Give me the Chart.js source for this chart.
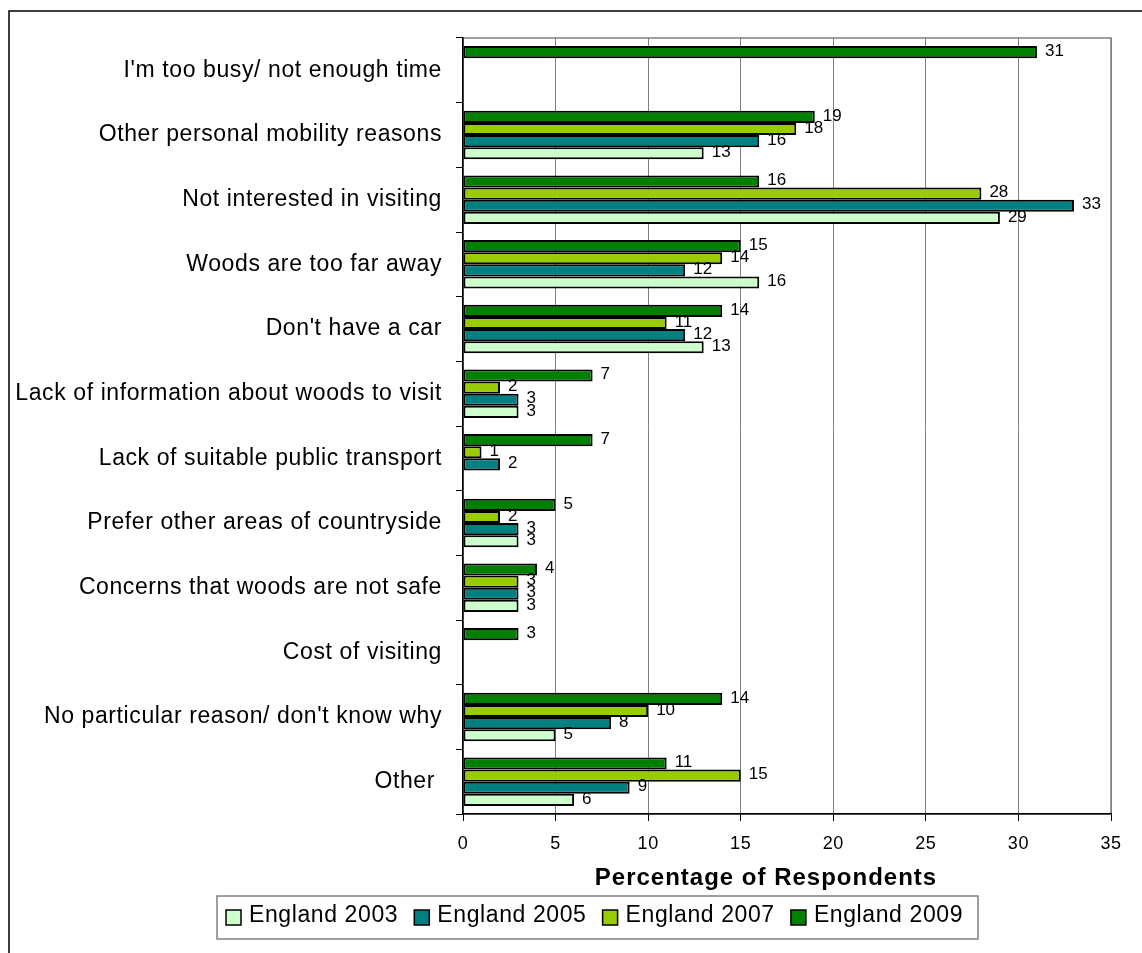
<!DOCTYPE html>
<html>
<head>
<meta charset="utf-8">
<script src="https://cdn.jsdelivr.net/npm/chart.js@4.4.1/dist/chart.umd.min.js"></script>
<style>
  html, body { margin: 0; padding: 0; background: #fff; }
  canvas { display: block; }
</style>
</head>
<body>
<canvas id="chart" width="1142" height="953"></canvas>
<script>
// Reasons for not visiting woodland, % of respondents
const categories = [
  "I'm too busy/ not enough time",
  'Other personal mobility reasons',
  'Not interested in visiting',
  'Woods are too far away',
  "Don't have a car",
  'Lack of information about woods to visit',
  'Lack of suitable public transport',
  'Prefer other areas of countryside',
  'Concerns that woods are not safe',
  'Cost of visiting',
  "No particular reason/ don't know why",
  'Other '
];

const england2003 = [null, 13, 29, 16, 13, 3, null, 3, 3, null, 5, 6];
const england2005 = [null, 16, 33, 12, 12, 3, 2, 3, 3, null, 8, 9];
const england2007 = [null, 18, 28, 14, 11, 2, 1, 2, 3, null, 10, 15];
const england2009 = [31, 19, 16, 15, 14, 7, 7, 5, 4, 3, 14, 11];

const seriesNames = ['England 2003', 'England 2005', 'England 2007', 'England 2009'];
const seriesColors = ['#CCFFCC', '#008080', '#99CC00', '#008000'];

const xMin = 0;
const xMax = 35;
const xStep = 5;
const xTitle = 'Percentage of Respondents';

const FONT = "'Liberation Sans', Arial, sans-serif";

// bars are listed top to bottom inside each group: 2009 first
const seriesData = [england2003, england2005, england2007, england2009];
const datasets = [3, 2, 1, 0].map(i => ({
  label: seriesNames[i],
  data: seriesData[i],
  backgroundColor: seriesColors[i],
  borderColor: '#000',
  borderWidth: 2,
  borderSkipped: false,
  categoryPercentage: 0.75,
  barPercentage: 1.0
}));

const framePlugin = {
  id: 'frame',
  beforeDraw(chart) {
    const ctx = chart.ctx;
    const a = chart.chartArea;
    ctx.save();
    // outer chart border (only top and left are inside the picture)
    ctx.strokeStyle = '#000';
    ctx.lineWidth = 1.5;
    ctx.beginPath();
    ctx.moveTo(9, 953);
    ctx.lineTo(9, 11);
    ctx.lineTo(1142, 11);
    ctx.stroke();
    // grey plot area frame
    ctx.strokeStyle = '#808080';
    ctx.lineWidth = 1.5;
    ctx.strokeRect(a.left, a.top, a.right - a.left, a.bottom - a.top);
    ctx.restore();
    ctx.letterSpacing = '0.6px';
  },
  beforeDatasetsDraw(chart) {
    chart.ctx.letterSpacing = '0px';
  },
  afterDatasetsDraw(chart) {
    const ctx = chart.ctx;
    ctx.save();
    ctx.font = '17px ' + FONT;
    ctx.fillStyle = '#000';
    ctx.textAlign = 'left';
    ctx.textBaseline = 'middle';
    chart.data.datasets.forEach((ds, di) => {
      const meta = chart.getDatasetMeta(di);
      meta.data.forEach((bar, i) => {
        const v = ds.data[i];
        if (v === null || v === undefined) return;
        ctx.fillText(String(v), bar.x + 8, bar.y - 1);
      });
    });
    ctx.restore();
  },
  afterDraw(chart) {
    const ctx = chart.ctx;
    const a = chart.chartArea;
    ctx.save();
    ctx.letterSpacing = '1px';
    // axis title
    ctx.font = 'bold 24px ' + FONT;
    ctx.fillStyle = '#000';
    ctx.textAlign = 'center';
    ctx.textBaseline = 'alphabetic';
    ctx.fillText(xTitle, 766, 885);

    // legend box
    ctx.strokeStyle = '#808080';
    ctx.lineWidth = 1.5;
    ctx.strokeRect(217, 896, 761, 43);
    ctx.letterSpacing = '0.6px';
    ctx.font = '23px ' + FONT;
    ctx.textAlign = 'left';
    seriesNames.forEach((name, i) => {
      const x = 226 + i * 188.3;
      ctx.fillStyle = seriesColors[i];
      ctx.fillRect(x, 910, 15, 15);
      ctx.strokeStyle = '#000';
      ctx.lineWidth = 1.5;
      ctx.strokeRect(x, 910, 15, 15);
      ctx.fillStyle = '#000';
      ctx.fillText(name, x + 23, 922);
    });
    ctx.restore();
  }
};

new Chart(document.getElementById('chart'), {
  type: 'bar',
  data: {
    labels: categories,
    datasets: datasets
  },
  options: {
    indexAxis: 'y',
    responsive: false,
    animation: false,
    devicePixelRatio: 1,
    layout: {
      padding: { top: 38, right: 31, left: 0, bottom: 0 }
    },
    plugins: {
      legend: { display: false },
      tooltip: { enabled: false }
    },
    scales: {
      x: {
        min: xMin,
        max: xMax,
        afterFit: (scale) => { scale.height = 139; },
        ticks: {
          stepSize: xStep,
          color: '#000',
          padding: 12,
          font: { family: FONT, size: 18 }
        },
        grid: {
          color: '#808080',
          lineWidth: 1,
          tickColor: '#000',
          tickLength: 7
        },
        border: { display: true, color: '#000', width: 1.5 }
      },
      y: {
        afterFit: (scale) => { scale.width = 463; },
        ticks: {
          color: '#000',
          padding: 14,
          font: { family: FONT, size: 23 }
        },
        grid: {
          drawOnChartArea: false,
          offset: true,
          tickColor: '#000',
          tickLength: 7
        },
        border: { display: true, color: '#000', width: 1.5 }
      }
    }
  },
  plugins: [framePlugin]
});
</script>
</body>
</html>
